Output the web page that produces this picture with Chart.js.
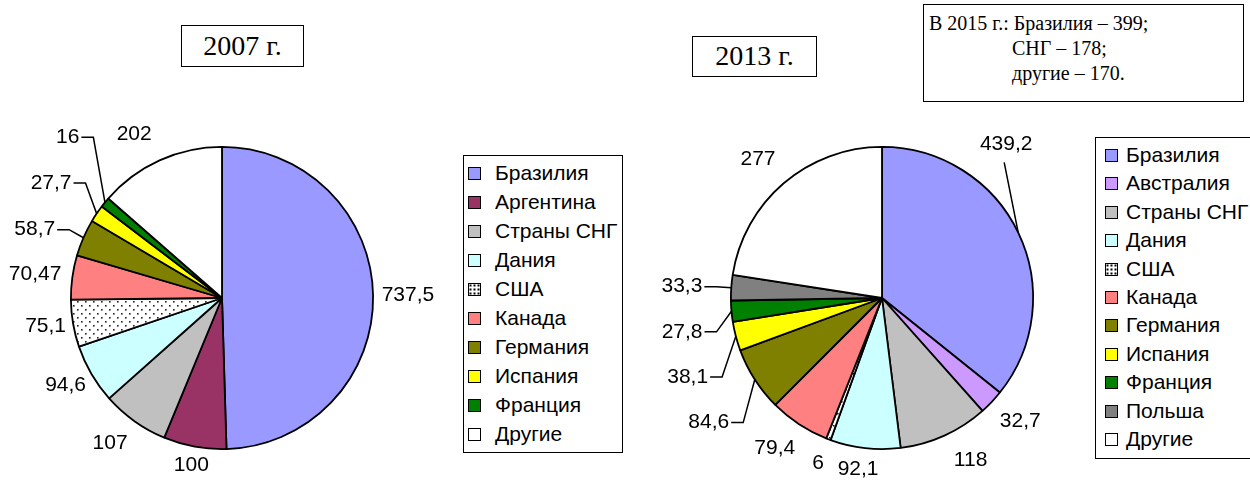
<!DOCTYPE html>
<html lang="ru">
<head>
<meta charset="utf-8">
<script src="https://cdn.jsdelivr.net/npm/chart.js@4.4.1/dist/chart.umd.min.js"></script>
<style>
    html, body { margin: 0; padding: 0; background: #fff; }
    #page { position: relative; width: 1250px; height: 482px; overflow: hidden; }
    canvas { position: absolute; top: 0; }
    .year-box {
        position: absolute; box-sizing: border-box; border: 1.5px solid #000;
        font: 28px "Liberation Serif", "Times New Roman", serif; text-align: center;
        background: #fff;
    }
    .note-box {
        position: absolute; box-sizing: border-box; border: 1.5px solid #000;
        font: 20px "Liberation Serif", "Times New Roman", serif; background: #fff;
    }
    .note-box span { position: absolute; white-space: nowrap; line-height: 20px; }
    .legend {
        position: absolute; box-sizing: border-box; border: 1.5px solid #000; background: #fff;
        font: 21px "Liberation Sans", Arial, sans-serif;
    }
    .legend .item { position: absolute; left: 0; white-space: nowrap; line-height: 24px; height: 24px; }
    .legend .swatch {
        position: absolute; top: 6px; width: 11px; height: 11px; border: 1.5px solid #000;
    }
    .legend .name { position: absolute; top: 0; }
</style>
</head>
<body>
<div id="page">
    <canvas id="chart2007" width="460" height="482" style="left:0"></canvas>
    <canvas id="chart2013" width="450" height="482" style="left:640px"></canvas>

    <div class="year-box" style="left:181px; top:25px; width:123px; height:42px; line-height:39px;">2007 г.</div>
    <div class="year-box" style="left:692px; top:36px; width:125px; height:41px; line-height:38px;">2013 г.</div>

    <div class="note-box" style="left:923px; top:4px; width:321px; height:98px;">
        <span style="left:5px; top:8px;">В 2015 г.: Бразилия – 399;</span>
        <span style="left:88px; top:33px;">СНГ – 178;</span>
        <span style="left:88px; top:58px;">другие – 170.</span>
    </div>

    <div class="legend" id="legend2007" style="left:463px; top:155px; width:160px; height:298px;"></div>
    <div class="legend" id="legend2013" style="left:1095px; top:137px; width:160px; height:322px;"></div>
</div>

<script>
// Поставки (2007 и 2013 гг.)
const labels2007 = ['Бразилия', 'Аргентина', 'Страны СНГ', 'Дания', 'США', 'Канада', 'Германия', 'Испания', 'Франция', 'Другие'];
const values2007 = [737.5, 100, 107, 94.6, 75.1, 70.47, 58.7, 27.7, 16, 202];

const labels2013 = ['Бразилия', 'Австралия', 'Страны СНГ', 'Дания', 'США', 'Канада', 'Германия', 'Испания', 'Франция', 'Польша', 'Другие'];
const values2013 = [439.2, 32.7, 118, 92.1, 6, 79.4, 84.6, 38.1, 27.8, 33.3, 277];

const countryColors = {
    'Бразилия': '#9999FF',
    'Аргентина': '#993366',
    'Австралия': '#CC99FF',
    'Страны СНГ': '#C0C0C0',
    'Дания': '#CCFFFF',
    'США': 'dots',
    'Канада': '#FF8080',
    'Германия': '#808000',
    'Испания': '#FFFF00',
    'Франция': '#008000',
    'Польша': '#808080',
    'Другие': '#FFFFFF'
};

// сдвиги подписей относительно стандартного положения + выноски
const labelShift2007 = [[0, 0], [0, 0], [-10, 2], [0, -4], [2, -2], [-2, 2], [-21, 4], [-21, -14], [-20, -51], [-16, -6]];
const leaders2007 = [null, null, null, null, null, null, 'h', 'h', 'h', null];
const labelShift2013 = [[-44, -73], [8, 0], [17, 4], [-5, 3], [-4, 7], [-10, 2], [-21, 27], [-19, 33], [-20, 18], [-20, 1], [-9, -5]];
const leaders2013 = ['v', null, null, null, null, null, 'h', 'h', 'h', 'h', null];

function dotPattern() {
    const tile = document.createElement('canvas');
    tile.width = 8;
    tile.height = 8;
    const t = tile.getContext('2d');
    t.fillStyle = '#fff';
    t.fillRect(0, 0, 8, 8);
    t.fillStyle = '#222';
    t.fillRect(1, 1, 1.6, 1.6);
    t.fillRect(5, 5, 1.6, 1.6);
    return t.createPattern(tile, 'repeat');
}

const fmt = v => String(v).replace('.', ',');

const sliceLabels = {
    id: 'sliceLabels',
    afterDatasetsDraw(chart, args, opts) {
        const ctx = chart.ctx;
        const arcs = chart.getDatasetMeta(0).data;
        const values = chart.data.datasets[0].data;
        ctx.save();
        ctx.font = '21px "Liberation Sans", Arial, sans-serif';
        ctx.fillStyle = '#000';
        ctx.strokeStyle = '#000';
        ctx.lineWidth = 1.5;
        ctx.textAlign = 'center';
        ctx.textBaseline = 'middle';
        arcs.forEach((arc, i) => {
            const { x, y, startAngle, endAngle, outerRadius } =
                arc.getProps(['x', 'y', 'startAngle', 'endAngle', 'outerRadius'], true);
            const mid = (startAngle + endAngle) / 2;
            const cos = Math.cos(mid), sin = Math.sin(mid);
            const text = fmt(values[i]);
            const w = ctx.measureText(text).width;
            const h = 15;
            const extent = Math.abs(cos) * w / 2 + Math.abs(sin) * h / 2;
            const d = outerRadius + 8.5 + extent;
            const shift = opts.shifts[i] || [0, 0];
            const lx = x + cos * d + shift[0];
            const ly = y + sin * d + shift[1];

            const leader = opts.leaders[i];
            if (leader) {
                const ax = x + cos * outerRadius;
                const ay = y + sin * outerRadius;
                ctx.beginPath();
                if (leader === 'h') {
                    const sx = lx + w / 2 + 2;
                    ctx.moveTo(sx, ly);
                    ctx.lineTo(Math.min(sx + 12, ax), ly);
                    ctx.lineTo(ax, ay);
                } else {
                    ctx.moveTo(lx - 2, ly + 18);
                    ctx.lineTo(ax, ay);
                }
                ctx.stroke();
            }
            ctx.fillText(text, lx, ly);
        });
        ctx.restore();
    }
};

function buildLegend(id, labels) {
    const box = document.getElementById(id);
    const step = id === 'legend2007' ? 29 : 28.4;
    const swatchLeft = id === 'legend2007' ? 4 : 9;
    const textLeft = id === 'legend2007' ? 31 : 30;
    box.innerHTML = labels.map((name, i) => {
        const c = countryColors[name];
        const bg = c === 'dots'
            ? 'background:#fff radial-gradient(circle, #000 0.9px, transparent 1.2px) center / 4px 4px;'
            : `background:${c};`;
        return `<div class="item" style="top:${5 + i * step}px">
                    <span class="swatch" style="left:${swatchLeft}px; ${bg}"></span>
                    <span class="name" style="left:${textLeft}px">${name}</span>
                </div>`;
    }).join('');
}

function makePie(canvasId, labels, values, padding, shifts, leaders) {
    const pattern = dotPattern();
    const colors = labels.map(n => countryColors[n] === 'dots' ? pattern : countryColors[n]);
    return new Chart(document.getElementById(canvasId), {
        type: 'pie',
        data: {
            labels: labels,
            datasets: [{
                data: values,
                backgroundColor: colors,
                borderColor: '#000',
                borderWidth: 1.8
            }]
        },
        options: {
            responsive: false,
            animation: false,
            events: [],
            layout: { padding: padding },
            plugins: {
                legend: { display: false },
                tooltip: { enabled: false },
                sliceLabels: { shifts: shifts, leaders: leaders }
            }
        },
        plugins: [sliceLabels]
    });
}

makePie('chart2007', labels2007, values2007, { left: 70, right: 86, top: 146, bottom: 32 }, labelShift2007, leaders2007);
makePie('chart2013', labels2013, values2013, { left: 90, right: 56, top: 146, bottom: 32 }, labelShift2013, leaders2013);

buildLegend('legend2007', labels2007);
buildLegend('legend2013', labels2013);
</script>
</body>
</html>
